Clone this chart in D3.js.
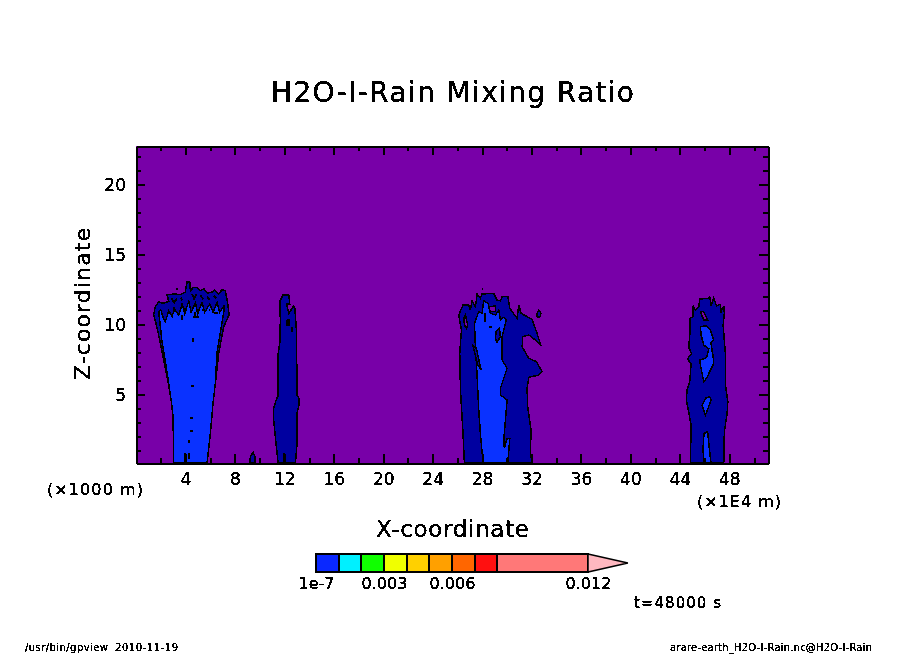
<!DOCTYPE html>
<html>
<head>
<meta charset="utf-8">
<title>H2O-I-Rain Mixing Ratio</title>
<script src="https://cdn.jsdelivr.net/npm/d3@7"></script>
<style>
body { margin: 0; background: #fff; }
svg { display: block; }
text { font-family: "DejaVu Sans", sans-serif; fill: #000; }
</style>
</head>
<body>
<svg></svg>
<script>
const w = 904
const h = 654

// axis values
const xMajor = [4, 8, 12, 16, 20, 24, 28, 32, 36, 40, 44, 48]
const xMinor = [2, 6, 10, 14, 18, 22, 26, 30, 34, 38, 42, 46, 50]
const zMajor = [5, 10, 15, 20]
const zMinor = [1, 2, 3, 4, 6, 7, 8, 9, 11, 12, 13, 14, 16, 17, 18, 19, 21, 22]

// colour bar
const barLevels = [1e-7, 0.001, 0.002, 0.003, 0.004, 0.005, 0.006, 0.007, 0.008, 0.012]
const barColors = ['#0a28ff', '#00f0ff', '#10ff00', '#f0ff00', '#ffd000', '#ffa000', '#ff6600', '#ff1010', '#ff7878']
const barTicks = [1e-7, 0.003, 0.006, 0.012]
const barTickLabels = ['1e-7', '0.003', '0.006', '0.012']
const barOver = 0.01376

// contour outlines, [x (1e4 m), z (1000 m)]
const plume1Outer = [[3.05,.14],[3.0,3.45],[2.84,4.64],[2.57,6.07],[2.24,7.5],[1.92,8.93],[1.65,10.0],[1.43,10.73],[1.57,11.33],[1.84,11.64],[2.2,11.55],[2.65,11.68],[2.51,12.16],[3.19,12.21],[3.59,12.16],[3.98,12.35],[4.13,13.06],[4.35,13.06],[4.4,12.4],[4.62,12.68],[4.94,12.68],[5.21,12.45],[5.48,12.59],[5.8,12.28],[6.15,12.35],[6.34,12.49],[6.69,12.21],[6.96,12.52],[7.23,12.45],[7.42,11.5],[7.53,10.73],[7.1,9.88],[6.69,7.98],[6.42,5.83],[6.23,4.4],[6.02,2.26],[5.75,.14]]
const plume1Inner = [[3.05,.14],[3.0,3.45],[2.84,4.64],[2.6,6.07],[2.36,7.5],[2.1,8.81],[1.97,9.88],[1.84,10.95],[2.0,11.1],[2.24,10.4],[2.38,10.25],[2.65,11.0],[2.92,10.6],[3.11,11.15],[3.46,10.7],[3.73,11.5],[3.94,10.8],[4.27,11.7],[4.46,10.9],[4.81,11.6],[4.99,10.8],[5.34,11.6],[5.56,10.9],[5.97,11.5],[6.24,10.9],[6.56,11.6],[6.77,10.9],[7.15,11.4],[7.1,10.95],[6.9,9.88],[6.55,7.98],[6.42,5.83],[6.23,4.4],[6.02,2.26],[5.75,.14]]
const smallPlume = [[9.2,.14],[9.26,.6],[9.47,.9],[9.61,.6],[9.63,.14]]
const plume2Outer = [[11.49,.14],[11.33,1.54],[11.14,3.21],[11.14,4.04],[11.31,4.59],[11.47,4.88],[11.47,7.73],[11.63,8.69],[11.68,10.35],[11.63,11.66],[11.9,12.14],[12.36,12.14],[12.44,11.5],[12.17,11.5],[12.36,10.83],[12.76,11.35],[12.84,11.3],[12.98,9.64],[13.03,4.99],[13.19,4.76],[13.17,4.21],[13.03,3.69],[13.03,1.54],[12.9,.14]]
const plume3Outer = [[26.57,.14],[26.44,2.5],[26.25,5.35],[26.19,7.97],[26.33,9.64],[26.11,10.71],[26.46,11.42],[26.92,11.42],[27.05,11.07],[27.19,11.73],[27.46,11.3],[27.6,12.21],[27.86,11.9],[28.0,12.21],[28.94,12.26],[29.21,11.78],[29.48,11.73],[29.62,12.02],[30.08,12.02],[30.24,11.19],[30.83,10.47],[30.97,11.42],[31.15,10.83],[32.04,10.4],[32.4,9.52],[32.77,8.5],[32.31,8.92],[31.78,9.28],[31.29,9.16],[31.24,8.45],[31.78,7.61],[32.4,7.38],[32.85,6.66],[32.58,6.42],[31.78,6.26],[31.64,5.47],[31.69,4.16],[31.96,2.5],[31.91,.83],[32.04,.14]]
const plume3Blob = [[32.45,10.83],[32.58,11.07],[32.77,10.83],[32.66,10.54],[32.45,10.59]]
const plume3Inner = [[28.08,.14],[27.86,2.26],[27.73,3.92],[27.6,6.31],[27.46,8.45],[27.38,10.1],[27.73,10.95],[28.0,10.83],[28.13,11.73],[28.48,11.54],[28.67,10.83],[29.08,10.71],[29.35,11.07],[29.48,10.35],[29.7,10.54],[29.97,10.4],[29.62,9.16],[29.62,7.5],[30.02,6.9],[29.48,5.47],[29.48,5.0],[30.02,4.64],[29.89,3.21],[29.75,1.78],[29.8,1.19],[30.02,1.9],[30.24,1.9],[30.08,.14]]
const plume3Wedge = [[27.24,8.57],[27.54,8.33],[27.92,6.78],[27.65,7.14]]
const plume3Island = [[29.13,9.52],[29.4,9.76],[29.48,9.16],[29.21,8.76],[29.08,9.04]]
const plume3HoleA = [[26.52,10.47],[26.65,10.71],[26.84,10.0],[26.73,9.76],[26.57,10.0]]
const plume3HoleB = [[28.54,11.3],[29.08,11.35],[29.08,10.95],[28.67,10.95]]
const plume4Outer = [[44.85,.14],[44.91,2.85],[44.53,4.64],[44.58,5.35],[44.8,5.95],[44.91,7.25],[44.6,7.56],[44.95,7.95],[44.72,8.4],[44.8,9.28],[44.8,10.47],[45.07,10.59],[45.07,11.37],[45.26,11.06],[45.53,11.3],[45.61,11.85],[46.26,11.9],[46.42,12.02],[46.53,11.37],[46.74,11.95],[46.96,11.37],[47.28,11.47],[47.34,10.95],[47.55,11.37],[47.6,10.83],[47.5,10.0],[47.69,7.85],[47.69,5.71],[47.88,4.52],[47.82,3.68],[47.6,2.37],[47.55,.14]]
const plume4Hole = [[45.66,10.95],[45.93,10.95],[46.26,10.35],[45.93,10.35]]
const plume4PatchA = [[45.66,9.87],[46.15,9.95],[46.47,9.64],[46.74,8.92],[46.5,8.76],[46.69,7.73],[46.74,7.25],[46.15,6.18],[45.93,5.95],[45.66,7.14],[45.61,7.49],[46.15,7.66],[46.35,8.3],[45.93,8.56],[45.72,9.28]]
const plume4PatchC = [[46.07,4.76],[46.42,4.87],[46.53,4.64],[46.07,3.56],[45.8,4.28]]
const plume4PatchD = [[45.95,2.25],[46.25,2.37],[46.35,1.42],[46.52,.14],[45.92,.14],[45.88,1.18]]

// short contour pieces
const fragments = [
  [[4.59,9.05],[4.59,8.81]], [[4.49,5.62],[4.7,5.62]], [[4.43,5.36],[4.46,5.36]], [[4.43,4.33],[4.46,4.33]],
  [[4.67,3.62],[4.7,3.62]], [[4.4,3.33],[4.64,3.33]], [[4.35,3.14],[4.38,3.14]], [[4.4,2.41],[4.64,2.41]],
  [[4.27,2.62],[4.3,2.62]], [[4.3,1.8],[4.3,1.55]], [[4.67,1.43],[4.7,1.43]], [[3.95,.84],[3.95,.14]], [[4.27,.84],[4.27,.45]],
  [[4.62,10.6],[5.07,10.6]], [[4.81,10.95],[4.81,10.48]], [[3.2,12.55],[3.4,12.55]], [[3.73,10.72],[3.73,10.36]],
  [[5.35,11.07],[5.6,11.07]], [[5.9,11.1],[6.0,11.1]], [[3.05,11.3],[3.05,10.95]], [[4.0,11.2],[4.0,10.95]], [[6.29,10.83],[6.6,10.83]],
  [[2.85,11.9],[3.1,11.6],[3.3,11.9]], [[3.6,11.95],[3.75,11.75]], [[4.55,12.2],[4.7,11.9],[4.9,12.2]], [[5.2,12.1],[5.45,11.85]], [[5.75,12.0],[6.0,11.8]], [[6.3,12.1],[6.5,11.9]],
  [[11.98,.83],[11.98,.14]], [[12.2,10.35],[12.41,10.35],[12.41,10.0],[12.2,10.0],[12.2,10.35]], [[12.65,9.88],[12.65,9.5]],
  [[28.27,10.83],[28.27,10.23]], [[28.0,12.57],[28.05,12.57]], [[28.54,9.83],[28.8,9.83]]
]

const bgColor = '#7800a8'
const darkBlue = '#0000a0'
const midBlue = '#0a32ff'

const darkShapes = [plume1Outer, smallPlume, plume2Outer, plume3Outer, plume3Blob, plume4Outer]
const midShapes = [plume1Inner, plume3Inner, plume4PatchA, plume4PatchC, plume4PatchD]
const topDarkShapes = [plume3Wedge, plume3Island]
const holeShapes = [plume3HoleA, plume3HoleB, plume4Hole]

let svg = d3.select('svg').attr('width', w).attr('height', h)

// keeps the text edges hard, like the original raster
let defs = svg.append('defs')
let hard = defs.append('filter').attr('id', 'hard')
hard.append('feComponentTransfer').append('feFuncA')
    .attr('type', 'discrete').attr('tableValues', '0 1 1 1')

let xScale = d3.scaleLinear().domain([0, 51.13]).range([136, 768])
let zScale = d3.scaleLinear().domain([0.14, 22.78]).range([463, 146])
let barScale = d3.scaleLinear().domain([0, 0.012]).range([316, 588])

let line = d3.line().x(d => xScale(d[0])).y(d => zScale(d[1]))

svg.append('rect')
   .attr('x', xScale(0)).attr('y', zScale(22.78))
   .attr('width', xScale(51.13) - xScale(0))
   .attr('height', zScale(0.14) - zScale(22.78))
   .attr('fill', bgColor)

let drawShapes = (shapes, fill) => {
    svg.append('g')
       .selectAll('path')
       .data(shapes)
       .enter()
       .append('path')
       .attr('d', d => line(d) + 'Z')
       .attr('fill', fill)
       .attr('stroke', '#000')
       .attr('stroke-width', 1.5)
       .attr('shape-rendering', 'crispEdges')
}
drawShapes(darkShapes, darkBlue)
drawShapes(midShapes, midBlue)
drawShapes(topDarkShapes, darkBlue)
drawShapes(holeShapes, bgColor)

svg.append('g')
   .selectAll('path')
   .data(fragments)
   .enter()
   .append('path')
   .attr('d', d => line(d))
   .attr('fill', 'none')
   .attr('stroke', '#000')
   .attr('stroke-width', 2)
   .attr('shape-rendering', 'crispEdges')

// axes, ticks point inward on all four sides
let styleAxis = (g, size) => {
    g.attr('shape-rendering', 'crispEdges')
    g.selectAll('line').attr('stroke', '#000').attr('stroke-width', 2)
    g.select('.domain').attr('stroke', '#000').attr('stroke-width', 2)
    g.selectAll('text').style('font-family', '"DejaVu Sans", sans-serif')
     .style('font-size', size + 'px').attr('fill', '#000').attr('filter', 'url(#hard)')
}
let addAxis = (axis, tx, ty, size) => {
    svg.append('g')
       .attr('transform', 'translate(' + tx + ',' + ty + ')')
       .call(axis)
       .call(styleAxis, size)
}
let none = () => ''

addAxis(d3.axisBottom(xScale).tickValues(xMinor).tickSize(-5).tickSizeOuter(0).tickFormat(none), 0, 463, 17)
addAxis(d3.axisTop(xScale).tickValues(xMinor).tickSize(-5).tickSizeOuter(0).tickFormat(none), 0, 146, 17)
addAxis(d3.axisLeft(zScale).tickValues(zMinor).tickSize(-5).tickSizeOuter(0).tickFormat(none), 136, 0, 17)
addAxis(d3.axisRight(zScale).tickValues(zMinor).tickSize(-5).tickSizeOuter(0).tickFormat(none), 768, 0, 17)
addAxis(d3.axisBottom(xScale).tickValues(xMajor).tickSize(-9).tickSizeOuter(0).tickPadding(10), 0, 463, 17)
addAxis(d3.axisTop(xScale).tickValues(xMajor).tickSize(-9).tickSizeOuter(0).tickFormat(none), 0, 146, 17)
addAxis(d3.axisLeft(zScale).tickValues(zMajor).tickSize(-9).tickSizeOuter(0).tickPadding(10), 136, 0, 17)
addAxis(d3.axisRight(zScale).tickValues(zMajor).tickSize(-9).tickSizeOuter(0).tickFormat(none), 768, 0, 17)

// colour bar
let barTop = 554
let barBottom = 572
svg.append('g')
   .selectAll('rect')
   .data(barColors)
   .enter()
   .append('rect')
   .attr('x', (d, i) => barScale(barLevels[i]))
   .attr('y', barTop)
   .attr('width', (d, i) => barScale(barLevels[i + 1]) - barScale(barLevels[i]))
   .attr('height', barBottom - barTop)
   .attr('fill', d => d)
   .attr('stroke', '#000')
   .attr('stroke-width', 2)
   .attr('shape-rendering', 'crispEdges')

svg.append('path')
   .attr('d', 'M' + barScale(0.012) + ',' + barTop + 'L' + barScale(barOver) + ',' + ((barTop + barBottom) / 2) + 'L' + barScale(0.012) + ',' + barBottom + 'Z')
   .attr('fill', '#ffb8c0')
   .attr('stroke', '#000')
   .attr('stroke-width', 1.5)

svg.append('g')
   .attr('transform', 'translate(0,' + (barBottom + 6) + ')')
   .call(d3.axisBottom(barScale).tickValues(barTicks).tickSize(0).tickPadding(0)
           .tickFormat((d, i) => barTickLabels[i]))
   .call(g => g.select('.domain').remove())
   .call(g => g.selectAll('text').style('font-family', '"DejaVu Sans", sans-serif')
                .style('font-size', '16px').attr('fill', '#000').attr('filter', 'url(#hard)'))

// free text
let addText = (str, x, y, size, anchor, length, rotate) => {
    let t = svg.append('text')
       .attr('x', x).attr('y', y)
       .attr('font-size', size)
       .attr('text-anchor', anchor)
       .attr('filter', 'url(#hard)')
       .text(str)
    if (length) t.attr('textLength', length).attr('lengthAdjust', 'spacing')
    if (rotate) t.attr('transform', 'rotate(' + rotate + ' ' + x + ' ' + y + ')')
}
addText('H2O-I-Rain Mixing Ratio', 271, 102, 28, 'start', 363)
addText('X-coordinate', 376, 537, 23, 'start', 153)
addText('Z-coordinate', 90, 380, 22, 'start', 152, -90)
addText('(×1000 m)', 47, 495, 16, 'start', 96)
addText('(×1E4 m)', 697, 507, 16, 'start', 84)
addText('t=48000 s', 634, 608, 15, 'start', 87)
addText('/usr/bin/gpview', 25, 651, 10, 'start', 83)
addText('2010-11-19', 115, 651, 10, 'start', 63)
addText('arare-earth_H2O-I-Rain.nc@H2O-I-Rain', 670, 651, 10, 'start', 202)
</script>
</body>
</html>
